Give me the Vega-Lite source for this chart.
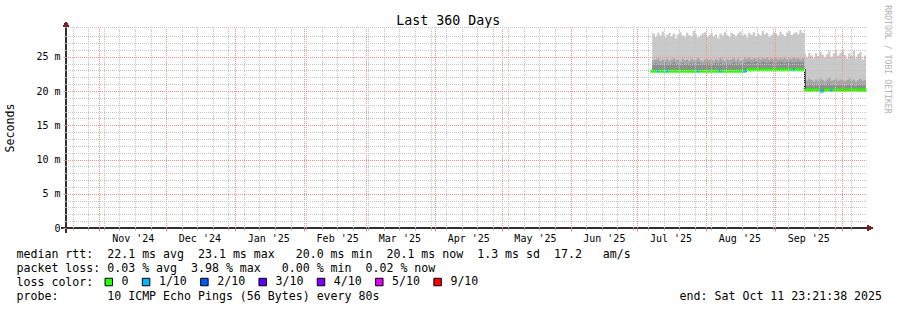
{
  "$schema": "https://vega.github.io/schema/vega-lite/v6.json",
  "width": 800,
  "height": 201,
  "autosize": {"type": "none"},
  "padding": {"left": 66, "top": 27, "right": 31, "bottom": 82},
  "background": "white",
  "config": {
    "view": {"stroke": null},
    "font": "DejaVu Sans Mono",
    "axis": {"labelFont": "DejaVu Sans Mono", "titleFont": "DejaVu Sans Mono", "titleFontWeight": "normal", "labelColor": "black", "titleColor": "black"}
  },
  "data": {
    "values": [
      {"t": "2025-07-07T18:00:00Z", "max": 28.6, "mid": 24.7, "dark": 24.0, "med": 22.9, "loss": "0"},
      {"t": "2025-07-08", "max": 28.4, "mid": 24.5, "dark": 23.9, "med": 22.9, "loss": "0"},
      {"t": "2025-07-09", "max": 27.9, "mid": 24.6, "dark": 24.1, "med": 22.9, "loss": "0"},
      {"t": "2025-07-10", "max": 28.5, "mid": 24.8, "dark": 23.9, "med": 22.9, "loss": "1/10"},
      {"t": "2025-07-11", "max": 28.1, "mid": 24.4, "dark": 24.0, "med": 22.9, "loss": "0"},
      {"t": "2025-07-12", "max": 28.7, "mid": 24.6, "dark": 23.8, "med": 22.9, "loss": "0"},
      {"t": "2025-07-13", "max": 27.8, "mid": 24.5, "dark": 24.1, "med": 22.9, "loss": "0"},
      {"t": "2025-07-14", "max": 28.2, "mid": 24.7, "dark": 24.0, "med": 22.9, "loss": "1/10"},
      {"t": "2025-07-15", "max": 28.5, "mid": 24.4, "dark": 23.9, "med": 22.9, "loss": "0"},
      {"t": "2025-07-16", "max": 28.0, "mid": 24.6, "dark": 24.0, "med": 22.9, "loss": "0"},
      {"t": "2025-07-17", "max": 28.4, "mid": 24.8, "dark": 24.2, "med": 22.9, "loss": "0"},
      {"t": "2025-07-18", "max": 27.7, "mid": 24.5, "dark": 23.9, "med": 22.9, "loss": "0"},
      {"t": "2025-07-19", "max": 28.3, "mid": 24.6, "dark": 24.0, "med": 22.9, "loss": "0"},
      {"t": "2025-07-20", "max": 28.6, "mid": 24.3, "dark": 23.8, "med": 22.9, "loss": "0"},
      {"t": "2025-07-21", "max": 28.1, "mid": 24.7, "dark": 24.1, "med": 22.9, "loss": "0"},
      {"t": "2025-07-22", "max": 27.9, "mid": 24.5, "dark": 23.9, "med": 22.9, "loss": "0"},
      {"t": "2025-07-23", "max": 28.5, "mid": 24.6, "dark": 24.0, "med": 22.9, "loss": "0"},
      {"t": "2025-07-24", "max": 28.2, "mid": 24.4, "dark": 23.9, "med": 22.9, "loss": "0"},
      {"t": "2025-07-25", "max": 28.0, "mid": 24.7, "dark": 24.1, "med": 22.9, "loss": "0"},
      {"t": "2025-07-26", "max": 28.8, "mid": 24.5, "dark": 24.0, "med": 22.9, "loss": "0"},
      {"t": "2025-07-27", "max": 28.3, "mid": 24.6, "dark": 23.9, "med": 22.9, "loss": "0"},
      {"t": "2025-07-28", "max": 27.8, "mid": 24.8, "dark": 24.2, "med": 22.9, "loss": "1/10"},
      {"t": "2025-07-29", "max": 28.1, "mid": 24.5, "dark": 24.0, "med": 22.9, "loss": "0"},
      {"t": "2025-07-30", "max": 28.4, "mid": 24.3, "dark": 23.8, "med": 22.9, "loss": "0"},
      {"t": "2025-07-31", "max": 28.6, "mid": 24.6, "dark": 24.0, "med": 22.9, "loss": "0"},
      {"t": "2025-08-01", "max": 27.9, "mid": 24.7, "dark": 24.1, "med": 22.9, "loss": "0"},
      {"t": "2025-08-02", "max": 28.2, "mid": 24.5, "dark": 23.9, "med": 22.9, "loss": "0"},
      {"t": "2025-08-03", "max": 28.5, "mid": 24.6, "dark": 24.0, "med": 22.9, "loss": "0"},
      {"t": "2025-08-04", "max": 28.0, "mid": 24.4, "dark": 23.9, "med": 22.9, "loss": "0"},
      {"t": "2025-08-05", "max": 28.3, "mid": 24.7, "dark": 24.1, "med": 22.9, "loss": "0"},
      {"t": "2025-08-06", "max": 27.7, "mid": 24.5, "dark": 24.0, "med": 22.9, "loss": "0"},
      {"t": "2025-08-07", "max": 28.4, "mid": 24.8, "dark": 24.2, "med": 22.9, "loss": "1/10"},
      {"t": "2025-08-08", "max": 28.1, "mid": 24.6, "dark": 23.9, "med": 22.9, "loss": "0"},
      {"t": "2025-08-09", "max": 28.6, "mid": 24.4, "dark": 24.0, "med": 22.9, "loss": "0"},
      {"t": "2025-08-10", "max": 28.2, "mid": 24.7, "dark": 24.1, "med": 22.9, "loss": "0"},
      {"t": "2025-08-11", "max": 27.9, "mid": 24.5, "dark": 23.9, "med": 22.9, "loss": "0"},
      {"t": "2025-08-12", "max": 28.5, "mid": 24.6, "dark": 24.0, "med": 22.9, "loss": "0"},
      {"t": "2025-08-13", "max": 28.3, "mid": 24.8, "dark": 24.2, "med": 22.9, "loss": "0"},
      {"t": "2025-08-14", "max": 28.0, "mid": 24.5, "dark": 24.0, "med": 22.9, "loss": "0"},
      {"t": "2025-08-15", "max": 28.4, "mid": 24.7, "dark": 24.1, "med": 22.9, "loss": "0"},
      {"t": "2025-08-16", "max": 28.7, "mid": 24.4, "dark": 23.9, "med": 22.9, "loss": "0"},
      {"t": "2025-08-17", "max": 28.1, "mid": 24.6, "dark": 24.0, "med": 22.9, "loss": "0"},
      {"t": "2025-08-18", "max": 28.3, "mid": 24.8, "dark": 24.1, "med": 22.9, "loss": "1/10"},
      {"t": "2025-08-19", "max": 27.8, "mid": 24.7, "dark": 24.2, "med": 23.1, "loss": "0"},
      {"t": "2025-08-20", "max": 28.5, "mid": 24.9, "dark": 24.3, "med": 23.1, "loss": "0"},
      {"t": "2025-08-21", "max": 28.2, "mid": 24.6, "dark": 24.1, "med": 23.1, "loss": "0"},
      {"t": "2025-08-22", "max": 28.6, "mid": 24.8, "dark": 24.2, "med": 23.1, "loss": "0"},
      {"t": "2025-08-23", "max": 28.0, "mid": 24.7, "dark": 24.3, "med": 23.1, "loss": "0"},
      {"t": "2025-08-24", "max": 28.4, "mid": 24.9, "dark": 24.2, "med": 23.1, "loss": "0"},
      {"t": "2025-08-25", "max": 28.1, "mid": 24.6, "dark": 24.1, "med": 23.1, "loss": "0"},
      {"t": "2025-08-26", "max": 28.8, "mid": 24.8, "dark": 24.3, "med": 23.1, "loss": "0"},
      {"t": "2025-08-27", "max": 28.3, "mid": 24.7, "dark": 24.2, "med": 23.1, "loss": "0"},
      {"t": "2025-08-28", "max": 28.5, "mid": 24.9, "dark": 24.1, "med": 23.1, "loss": "0"},
      {"t": "2025-08-29", "max": 27.9, "mid": 24.6, "dark": 24.2, "med": 23.1, "loss": "0"},
      {"t": "2025-08-30", "max": 28.2, "mid": 24.8, "dark": 24.3, "med": 23.1, "loss": "0"},
      {"t": "2025-08-31", "max": 28.6, "mid": 24.7, "dark": 24.2, "med": 23.1, "loss": "0"},
      {"t": "2025-09-01", "max": 28.4, "mid": 24.9, "dark": 24.1, "med": 23.1, "loss": "0"},
      {"t": "2025-09-02", "max": 28.1, "mid": 24.6, "dark": 24.2, "med": 23.1, "loss": "0"},
      {"t": "2025-09-03", "max": 28.7, "mid": 24.8, "dark": 24.3, "med": 23.1, "loss": "0"},
      {"t": "2025-09-04", "max": 28.3, "mid": 24.7, "dark": 24.2, "med": 23.1, "loss": "0"},
      {"t": "2025-09-05", "max": 28.0, "mid": 24.9, "dark": 24.1, "med": 23.1, "loss": "0"},
      {"t": "2025-09-06", "max": 28.5, "mid": 24.6, "dark": 24.2, "med": 23.1, "loss": "0"},
      {"t": "2025-09-07", "max": 28.8, "mid": 24.8, "dark": 24.3, "med": 23.1, "loss": "0"},
      {"t": "2025-09-08", "max": 28.2, "mid": 24.7, "dark": 24.2, "med": 23.1, "loss": "0"},
      {"t": "2025-09-09", "max": 28.4, "mid": 24.9, "dark": 24.1, "med": 23.1, "loss": "1/10"},
      {"t": "2025-09-10", "max": 28.6, "mid": 24.7, "dark": 24.2, "med": 23.1, "loss": "0"},
      {"t": "2025-09-11", "max": 28.3, "mid": 24.8, "dark": 24.3, "med": 23.1, "loss": "0"},
      {"t": "2025-09-12", "max": 28.9, "mid": 24.6, "dark": 24.2, "med": 23.1, "loss": "0"},
      {"t": "2025-09-13", "max": 28.5, "mid": 24.8, "dark": 24.2, "med": 23.1, "loss": "0"},
      {"t": "2025-09-14T10:00:00Z", "max": 25.4, "mid": 21.6, "dark": 20.9, "med": 20.15, "loss": "0"},
      {"t": "2025-09-15", "max": 24.9, "mid": 21.5, "dark": 20.8, "med": 20.15, "loss": "0"},
      {"t": "2025-09-16", "max": 25.6, "mid": 21.8, "dark": 21.0, "med": 20.15, "loss": "0"},
      {"t": "2025-09-17", "max": 25.2, "mid": 21.6, "dark": 20.9, "med": 20.15, "loss": "0"},
      {"t": "2025-09-18", "max": 24.8, "mid": 21.4, "dark": 20.7, "med": 20.15, "loss": "0"},
      {"t": "2025-09-19", "max": 25.5, "mid": 21.7, "dark": 21.0, "med": 20.15, "loss": "0"},
      {"t": "2025-09-20", "max": 25.1, "mid": 21.5, "dark": 20.8, "med": 20.15, "loss": "0"},
      {"t": "2025-09-21", "max": 25.7, "mid": 21.8, "dark": 21.1, "med": 20.0, "loss": "1/10"},
      {"t": "2025-09-22", "max": 25.3, "mid": 21.6, "dark": 20.9, "med": 20.0, "loss": "1/10"},
      {"t": "2025-09-23", "max": 24.9, "mid": 21.4, "dark": 20.8, "med": 20.15, "loss": "0"},
      {"t": "2025-09-24", "max": 25.4, "mid": 21.7, "dark": 21.0, "med": 20.15, "loss": "0"},
      {"t": "2025-09-25", "max": 25.8, "mid": 21.9, "dark": 21.1, "med": 20.15, "loss": "0"},
      {"t": "2025-09-26", "max": 25.0, "mid": 21.5, "dark": 20.8, "med": 20.1, "loss": "1/10"},
      {"t": "2025-09-27", "max": 25.5, "mid": 21.6, "dark": 20.9, "med": 20.15, "loss": "0"},
      {"t": "2025-09-28", "max": 26.0, "mid": 21.8, "dark": 21.0, "med": 20.15, "loss": "0"},
      {"t": "2025-09-29", "max": 25.2, "mid": 21.5, "dark": 20.8, "med": 20.15, "loss": "0"},
      {"t": "2025-09-30", "max": 25.6, "mid": 21.7, "dark": 21.0, "med": 20.15, "loss": "0"},
      {"t": "2025-10-01", "max": 26.1, "mid": 21.6, "dark": 20.9, "med": 20.15, "loss": "0"},
      {"t": "2025-10-02", "max": 25.3, "mid": 21.4, "dark": 20.7, "med": 20.15, "loss": "0"},
      {"t": "2025-10-03", "max": 24.7, "mid": 21.6, "dark": 20.9, "med": 20.15, "loss": "0"},
      {"t": "2025-10-04", "max": 25.5, "mid": 21.8, "dark": 21.0, "med": 20.15, "loss": "0"},
      {"t": "2025-10-05", "max": 25.1, "mid": 21.5, "dark": 20.8, "med": 20.15, "loss": "0"},
      {"t": "2025-10-06", "max": 25.9, "mid": 21.7, "dark": 21.0, "med": 20.15, "loss": "0"},
      {"t": "2025-10-07", "max": 24.8, "mid": 21.4, "dark": 20.7, "med": 20.15, "loss": "0"},
      {"t": "2025-10-08", "max": 25.4, "mid": 21.6, "dark": 20.9, "med": 20.15, "loss": "0"},
      {"t": "2025-10-09", "max": 25.7, "mid": 21.8, "dark": 21.0, "med": 20.15, "loss": "0"},
      {"t": "2025-10-10", "max": 24.6, "mid": 21.5, "dark": 20.8, "med": 20.15, "loss": "0"},
      {"t": "2025-10-11", "max": 25.2, "mid": 21.6, "dark": 20.9, "med": 20.15, "loss": "0"},
      {"t": "2025-10-11T23:21:38Z", "max": 25.2, "mid": 21.6, "dark": 20.9, "med": 20.15, "loss": "0"}
    ]
  },
  "layer": [
    {
      "mark": {"type": "area", "interpolate": "step-after", "color": "#c9c9c9"},
      "encoding": {
        "x": {"field": "t", "type": "temporal",
          "scale": {"type": "utc", "domain": [1729120898000, 1760224898000]},
          "axis": {"orient": "bottom", "tickCount": {"interval": "week", "step": 1}, "grid": true, "gridColor": "#c4c4c4", "gridDash": [1, 1], "gridDashOffset": 0.5, "labels": false, "ticks": true, "tickSize": 2, "tickColor": "#b0b0b0", "domain": false, "title": null, "zindex": 1}},
        "y": {"field": "max", "type": "quantitative",
          "scale": {"domain": [0, 29.35], "nice": false, "zero": false},
          "axis": {"orient": "left", "values": [1, 2, 3, 4, 6, 7, 8, 9, 11, 12, 13, 14, 16, 17, 18, 19, 21, 22, 23, 24, 26, 27, 28, 29.35], "grid": true, "gridColor": "#c4c4c4", "gridDash": [1, 1], "gridDashOffset": 0.5, "labels": false, "ticks": true, "tickSize": 2, "tickColor": "#b0b0b0", "domain": false, "title": null, "zindex": 1}},
        "y2": {"field": "med"}
      }
    },
    {
      "mark": {"type": "area", "interpolate": "step-after", "color": "#a6a6a6"},
      "encoding": {
        "x": {"field": "t", "type": "temporal",
          "axis": {"orient": "bottom", "tickCount": {"interval": "month", "step": 1}, "grid": true, "gridColor": "#ff8c8c", "gridDash": [1, 1], "gridDashOffset": 0.5, "labels": false, "ticks": true, "tickSize": 3, "tickColor": "#ff8080", "domain": false, "title": null, "zindex": 1}},
        "y": {"field": "mid", "type": "quantitative",
          "axis": {"orient": "left", "values": [5, 10, 15, 20, 25], "grid": true, "gridColor": "#ff8c8c", "gridDash": [1, 1], "gridDashOffset": 0.5, "ticks": false, "labels": false, "domain": false, "title": null, "zindex": 1}},
        "y2": {"field": "med"}
      }
    },
    {
      "mark": {"type": "area", "interpolate": "step-after", "color": "#8e8e8e"},
      "encoding": {
        "x": {"field": "t", "type": "temporal",
          "axis": {"orient": "bottom", "values": [1731715200000, 1734307200000, 1736985600000, 1739664000000, 1742083200000, 1744761600000, 1747353600000, 1750032000000, 1752624000000, 1755302400000, 1757980800000],
            "labelExpr": "utcFormat(datum.value, \"%b '%y\")", "labelFontSize": 10, "labelBaseline": "alphabetic", "labelPadding": 13, "grid": false, "ticks": false, "domain": false,
            "title": ["median rtt:\u00a0\u00a022.1 ms avg\u00a0\u00a023.1 ms max\u00a0\u00a0\u00a020.0 ms min\u00a0\u00a020.1 ms now\u00a0\u00a01.3 ms sd\u00a0\u00a017.2\u00a0\u00a0\u00a0am/s",
                      "packet loss: 0.03 % avg\u00a0\u00a03.98 % max\u00a0\u00a0\u00a00.00 % min\u00a0\u00a00.02 % now",
                      "loss color:",
                      "probe:\u00a0\u00a0\u00a0\u00a0\u00a0\u00a0\u00a010 ICMP Echo Pings (56 Bytes) every 80s\u00a0\u00a0\u00a0\u00a0\u00a0\u00a0\u00a0\u00a0\u00a0\u00a0\u00a0\u00a0\u00a0\u00a0\u00a0\u00a0\u00a0\u00a0\u00a0\u00a0\u00a0\u00a0\u00a0\u00a0\u00a0\u00a0\u00a0\u00a0\u00a0\u00a0\u00a0\u00a0\u00a0\u00a0\u00a0\u00a0\u00a0\u00a0\u00a0\u00a0\u00a0\u00a0\u00a0end: Sat Oct 11 23:21:38 2025"],
            "titleFontSize": 11.6, "titleX": -50, "titleY": 29.5, "titleAlign": "left", "titleBaseline": "alphabetic", "titleLineHeight": 14, "titleAngle": 0}},
        "y": {"field": "dark", "type": "quantitative",
          "axis": {"orient": "right", "grid": false, "labels": false, "ticks": false, "domain": false, "title": "RRDTOOL / TOBI OETIKER", "titleAngle": 90, "titleX": 20, "titleY": 32, "titleAlign": "center", "titleBaseline": "middle", "titleFontSize": 8.2, "titleColor": "#b4b4b4"}},
        "y2": {"field": "med"}
      }
    },
    {
      "mark": {"type": "line", "interpolate": "step-after", "color": "#000000", "strokeWidth": 1.5},
      "encoding": {
        "x": {"field": "t", "type": "temporal",
          "axis": {"orient": "top", "grid": false, "labels": false, "ticks": false, "domain": false, "title": "Last 360 Days", "titleFontSize": 13.3, "titleX": 381.8, "titleY": -3, "titleAlign": "center", "titleBaseline": "alphabetic", "titleAngle": 0}},
        "y": {"field": "med", "type": "quantitative",
          "axis": {"orient": "left", "values": [0, 5, 10, 15, 20, 25], "grid": false, "ticks": true, "tickSize": 3, "tickColor": "#ff8080", "domain": false, "labelExpr": "datum.value == 0 ? '0' : datum.value + ' m'", "labelFontSize": 10, "labelPadding": 3, "labelBaseline": "middle", "title": "Seconds", "titleFontSize": 11.6, "titleX": -55.5, "titleY": 100.5, "titleAngle": -90, "titleAlign": "center", "titleBaseline": "middle", "zindex": 1}}
      }
    },
    {
      "mark": {"type": "tick", "orient": "horizontal", "size": 2.7, "thickness": 3, "opacity": 1},
      "encoding": {
        "x": {"field": "t", "type": "temporal", "timeUnit": "utcyearmonthdate", "bandPosition": 0.5, "axis": null},
        "y": {"field": "med", "type": "quantitative", "axis": null},
        "color": {"field": "loss", "type": "nominal",
          "scale": {"domain": ["0", "1/10", "2/10", "3/10", "4/10", "5/10", "9/10"], "range": ["#26ff00", "#00b8ff", "#0059ff", "#5e00ff", "#7e00ff", "#dd00ff", "#ff0000"]},
          "legend": {"orient": "none", "legendX": 37, "legendY": 249, "direction": "horizontal", "title": null, "symbolType": "square", "symbolSize": 56, "symbolStrokeColor": "#000000", "symbolStrokeWidth": 1, "symbolOpacity": 1, "labelFont": "DejaVu Sans Mono", "labelFontSize": 11.6, "labelColor": "#000000", "labelOffset": 7, "columnPadding": 11.3, "padding": 0}}
      }
    },
    {
      "mark": {"type": "rule", "color": "#303030", "strokeWidth": 1},
      "encoding": {
        "x": {"datum": 1728926498000, "type": "temporal", "axis": null},
        "x2": {"datum": 1760302658000},
        "y": {"datum": 0, "type": "quantitative", "axis": null}
      }
    },
    {
      "mark": {"type": "rule", "color": "#303030", "strokeWidth": 1},
      "encoding": {
        "x": {"datum": 1729120898000, "type": "temporal", "axis": null},
        "y": {"datum": -0.73, "type": "quantitative", "axis": null},
        "y2": {"datum": 29.6}
      }
    },
    {
      "mark": {"type": "point", "shape": "triangle-up", "filled": true, "size": 30, "color": "#7f1f1f", "opacity": 1},
      "encoding": {
        "x": {"datum": 1729120898000, "type": "temporal", "axis": null},
        "y": {"datum": 29.75, "type": "quantitative", "axis": null}
      }
    },
    {
      "mark": {"type": "point", "shape": "triangle-right", "filled": true, "size": 30, "color": "#7f1f1f", "opacity": 1},
      "encoding": {
        "x": {"datum": 1760380418000, "type": "temporal", "axis": null},
        "y": {"datum": 0, "type": "quantitative", "axis": null}
      }
    }
  ],
  "resolve": {"axis": {"x": "independent", "y": "independent"}}
}
